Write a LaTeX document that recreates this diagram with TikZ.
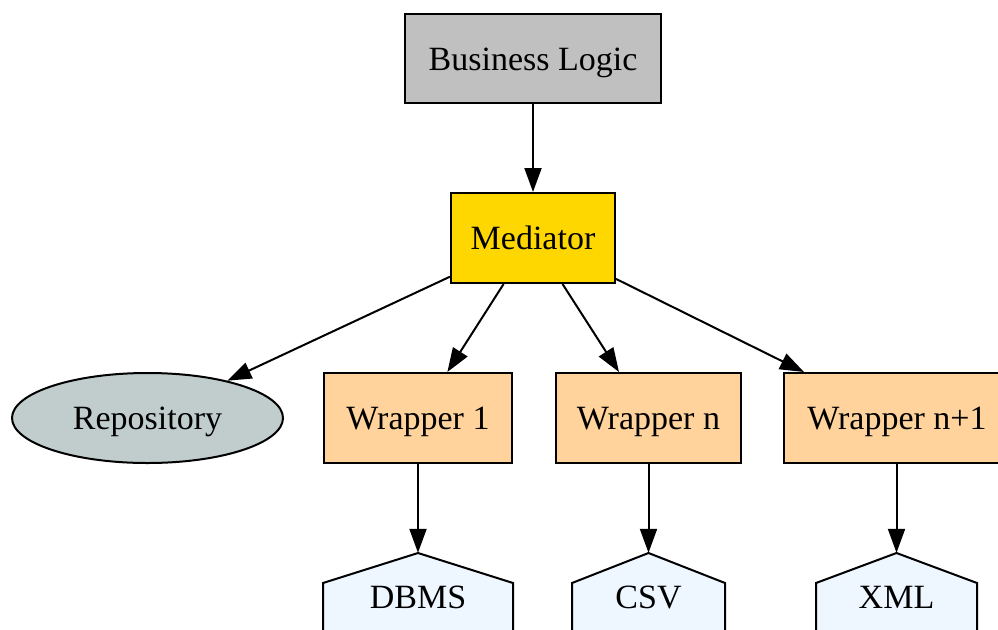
\documentclass[tikz,border=0pt]{standalone}
\usepackage{fontspec}
\setmainfont{LiberationSerif}[Extension=.ttf, UprightFont=*-Regular]
\usetikzlibrary{arrows.meta,shapes.geometric}

\definecolor{logicgray}{HTML}{C0C0C0}
\definecolor{medgold}{HTML}{FFD700}
\definecolor{wrapfill}{HTML}{FFD39B}
\definecolor{repofill}{HTML}{C1CDCD}
\definecolor{srcfill}{HTML}{EEF6FF}

% data source drawn as a house: outline first, then its named label node
\newcommand\sourcenode[4]{% name, center x, half width, label
  \filldraw[housebody] ({#2-#3},660) -- ({#2-#3},583) -- (#2,553) -- ({#2+#3},583) -- ({#2+#3},660);
  \node[housetext] (#1) at (#2,597) {#4};
}

\begin{document}
\begin{tikzpicture}[x=1pt,y=-1pt,
  every node/.style={font=\fontsize{34}{40}\selectfont, inner sep=0pt,
    text height=23pt, text depth=0pt},
  box/.style={draw, rectangle, line width=2pt, minimum height=90pt},
  blob/.style={draw, ellipse, line width=2pt},
  link/.style={-{Triangle[length=24pt,width=17pt]}, line width=2pt},
  housebody/.style={draw, fill=srcfill, line width=2pt, line join=miter},
  housetext/.style={minimum height=88pt},
]
\clip (0,0) rectangle (998,629);
\fill[white] (0,0) rectangle (998,629);

\node[box, fill=logicgray, minimum width=256pt, minimum height=89pt] (logic) at (533,58.5) {Business Logic};
\node[box, fill=medgold, minimum width=164pt] (med) at (533,238) {Mediator};

\node[blob, fill=repofill, minimum width=271pt, minimum height=90pt] (repo) at (147.5,418) {Repository};
\node[box, fill=wrapfill, minimum width=188pt] (w1) at (418,418) {Wrapper 1};
\node[box, fill=wrapfill, minimum width=185pt] (wn) at (648.5,418) {Wrapper n};
\node[box, fill=wrapfill, minimum width=226pt] (wn1) at (897,418) {Wrapper n+1};

\sourcenode{dbms}{418}{95}{DBMS}
\sourcenode{csv}{648.5}{76.5}{CSV}
\sourcenode{xml}{896.5}{80.5}{XML}

\draw[link] (logic) -- (med);
\draw[link] (med) -- (repo);
\draw[link] (med) -- (w1);
\draw[link] (med) -- (wn);
\draw[link] (med) -- (wn1);
\draw[link] (w1) -- (dbms.north);
\draw[link] (wn) -- (csv.north);
\draw[link] (wn1.south -| xml.north) -- (xml.north);
\end{tikzpicture}
\end{document}
